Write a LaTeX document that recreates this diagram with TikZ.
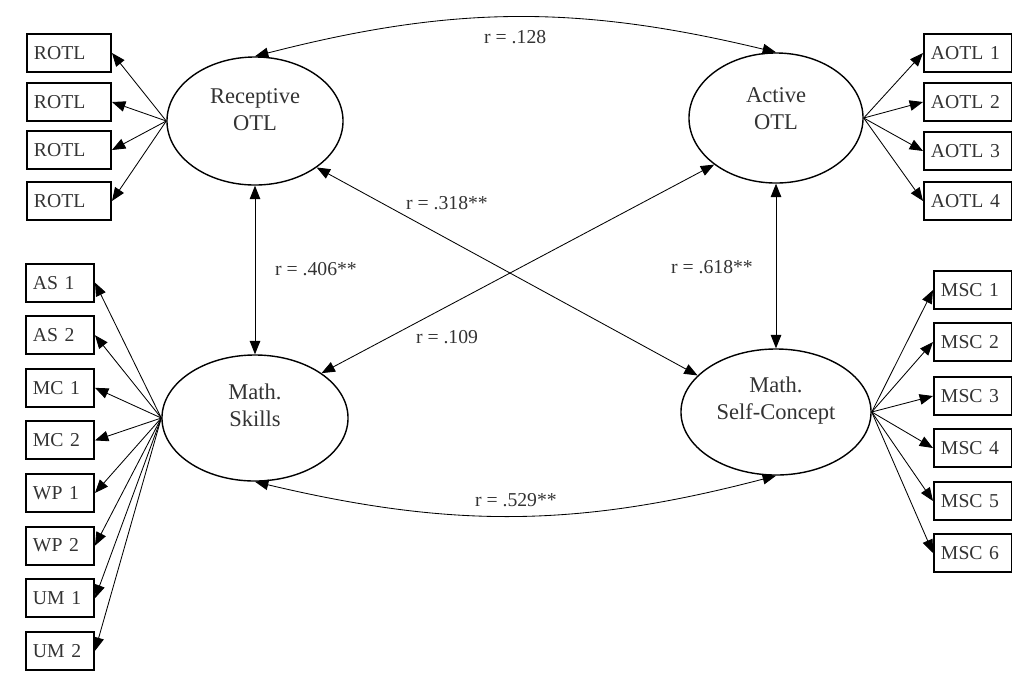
\documentclass[tikz,border=0pt]{standalone}
\usepackage{fontspec}
\setmainfont{Liberation Serif}
\usetikzlibrary{arrows.meta,shapes.geometric}

\tikzset{
  every node/.style={font=\fontsize{14}{18}\selectfont, text=black!80},
  lat/.style={draw, ellipse, line width=1pt, inner sep=0pt},
  latname/.style={align=center, font=\fontsize{16}{19}\selectfont},
  ind/.style={draw, line width=1.4pt, anchor=west, minimum height=0.95cm,
    inner xsep=0.175cm, align=left},
  tip/.style={Triangle[length=9.5pt,width=7.5pt]},
  load/.style={-{Triangle[length=9.5pt,width=7.5pt]}, line width=0.6pt},
  corr/.style={{Triangle[length=9.5pt,width=7.5pt]}-{Triangle[length=9.5pt,width=7.5pt]}, line width=0.6pt}
}

\begin{document}
\begin{tikzpicture}[x=0.025cm, y=-0.025cm]
  \useasboundingbox (0,0) rectangle (1012,680);

  \node[lat, minimum width=4.4cm, minimum height=3.2cm,
    label={[latname, yshift=0.28cm]center:Receptive\\OTL}] (rec) at (255,121) {};
  \node[lat, minimum width=4.35cm, minimum height=3.25cm,
    label={[latname, yshift=0.23cm]center:Active\\OTL}] (act) at (776,118) {};
  \node[lat, minimum width=4.65cm, minimum height=3.15cm,
    label={[latname, yshift=0.32cm]center:Math.\\Skills}] (msk) at (255,418) {};
  \node[lat, minimum width=4.75cm, minimum height=3.15cm,
    label={[latname, yshift=0.28cm]center:Math.\\Self-Concept}] (msc) at (776,412) {};

  \foreach \y [count=\i] in {53,102,150,201}
    \node[ind, text width=1.75cm] (rotl\i) at (26,\y) {ROTL};
  \foreach \y [count=\i] in {53,102,151,201}
    \node[ind, text width=1.85cm] (aotl\i) at (923,\y) {AOTL \i};
  \foreach \t [count=\i] in {AS 1,AS 2,MC 1,MC 2,WP 1,WP 2,UM 1,UM 2}
    \node[ind, text width=1.35cm] (ms\i) at (25,230+52.6*\i) {\t};
  \foreach \y [count=\i] in {290,342,396,448,501,553}
    \node[ind, text width=1.6cm] (sc\i) at (933,\y) {MSC \i};

  \foreach \i in {1,...,4} \draw[load] (rec.west) -- (rotl\i.east);
  \foreach \i in {1,...,4} \draw[load] (act.east) -- (aotl\i.west);
  \foreach \i in {1,...,8} \draw[load] (msk.west) -- (ms\i.east);
  \foreach \i in {1,...,6} \draw[load] (msc.east) -- (sc\i.west);

  \draw[corr] (rec.north) to[bend left=14] node[below=6pt] {r = .128} (act.north);
  \draw[corr] (msk.south) to[bend right=14] node[above=3pt] {r = .529**} (msc.south);
  \draw[corr] (rec.south) -- (msk.north);
  \draw[corr] (act.south) -- (msc.north);
  \draw[corr] (rec.-37) -- (msc.155);
  \draw[corr] (msk.34) -- (act.217);

  \node (r406) at (316,269) {r = .406**};
  \node (r618) at (712,267) {r = .618**};
  \node (r318) at (447,203) {r = .318**};
  \node (r109) at (447,337) {r = .109};
\end{tikzpicture}
\end{document}
